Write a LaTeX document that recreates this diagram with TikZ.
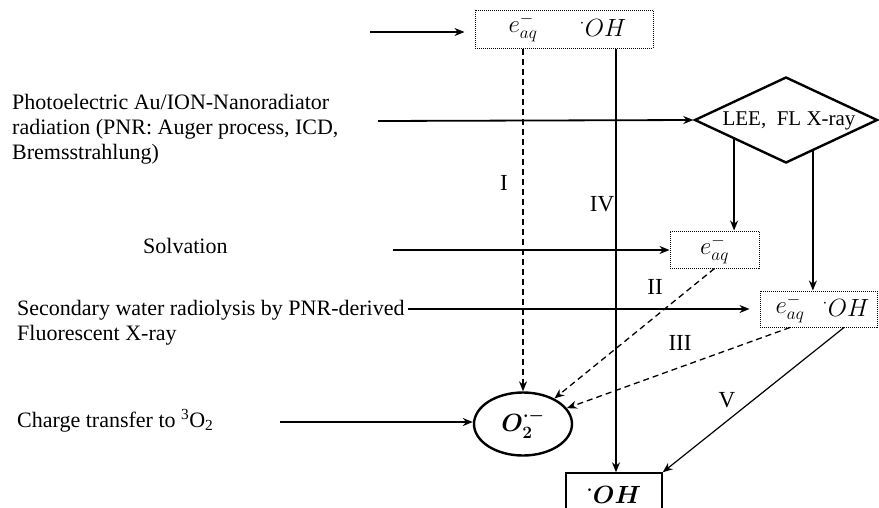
\documentclass[tikz,border=0pt]{standalone}
\usepackage{amsmath,bm}
\usepackage{fontspec}
\setmainfont{Liberation Serif}
\usetikzlibrary{arrows.meta,shapes.geometric,positioning,calc}

\tikzset{
  dotbox/.style={draw,densely dotted,line width=1pt,inner sep=0pt},
  feed/.style={->,line width=1.8pt},
  route/.style={->,line width=1.2pt},
  dashroute/.style={->,dash pattern=on 6pt off 4pt,line width=1.3pt},
  numlabel/.style={font=\fontsize{23}{23}\selectfont},
  species/.style={font=\fontsize{25}{25}\selectfont},
  caption/.style={anchor=west,align=left,inner sep=0pt},
}

\begin{document}
\begin{tikzpicture}[x=1pt,y=-1pt,>={Stealth[length=10pt,width=8pt]},font=\fontsize{22}{25}\selectfont]
    \useasboundingbox (0,0) rectangle (879,507);

    % Primary products
    \node[dotbox,minimum width=178pt,minimum height=38pt] (top) at (564,29) {};
    \node[species] (eaqtop) at (523,28) {$e^{-}_{aq}$};
    \node[species] (ohtop) at (603,28) {$^{\cdot}OH$};

    % PNR branch
    \node[draw,diamond,line width=2.4pt,minimum width=183pt,minimum height=86pt,inner sep=0pt,aspect=2.13] (lee) at (786,120) {};
    \node[font=\fontsize{21}{21}\selectfont] (leetxt) at (789,121) {LEE,\ \ FL X-ray};
    \node[dotbox,species,minimum width=89pt,minimum height=37pt] (eaqbox) at (714.5,249.5) {$e^{-}_{aq}$};
    \node[dotbox,minimum width=117pt,minimum height=36pt] (lowbox) at (818.5,309) {};
    \node[species] (eaqlow) at (790,309) {$e^{-}_{aq}$};
    \node[species] (ohlow) at (846,308) {$^{\cdot}OH$};

    % Final species
    \node[draw,ellipse,species,line width=2.4pt,minimum width=98pt,minimum height=63pt,inner sep=0pt] (o2) at (523,424) {$\bm{O_2^{\cdot -}}$};
    \node[draw,species,line width=1.4pt,minimum width=96pt,minimum height=44pt] (ohbox) at (614,495) {$\bm{^{\cdot}OH}$};

    % Captions
    \node[caption] (photo) at (12,129) {Photoelectric Au/ION-Nanoradiator\\radiation (PNR: Auger process, ICD,\\Bremsstrahlung)};
    \node[caption] (solv) at (143,246) {Solvation};
    \node[caption] (second) at (17,323) {Secondary water radiolysis by PNR-derived\\Fluorescent X-ray};
    \node[caption] (charge) at (17,421) {Charge transfer to \textsuperscript{3}O\textsubscript{2}};

    % Inputs
    \coordinate (s1) at (370,32);
    \coordinate (s2) at (378,121);
    \coordinate (s3) at (393,250);
    \coordinate (s4) at (408,309);
    \coordinate (s5) at (280,422);
    \draw[feed,shorten >=10pt] (s1) -- (s1 -| top.west);
    \draw[feed] (s2) -- (lee.west);
    \draw[feed] (s3) -- (s3 -| eaqbox.west);
    \draw[feed,shorten >=10pt] (s4) -- (s4 -| lowbox.west);
    \draw[feed] (s5) -- (s5 -| o2.west);

    % From the diamond
    \coordinate (d1) at ($(lee.west)!0.44!(lee.south)$);
    \coordinate (d2) at ($(lee.south)!0.29!(lee.east)$);
    \draw[feed] (d1) -- (d1 |- eaqbox.north);
    \draw[feed] (d2) -- (d2 |- lowbox.north);

    % Pathways
    \draw[dashroute] (top.south -| eaqtop) -- (o2.north);
    \draw[route] (top.south -| 616,0) -- (616,0 |- ohbox.north);
    \draw[dashroute] (eaqbox.south) -- (o2);
    \draw[dashroute] (lowbox.south -| eaqlow) -- (o2);
    \draw[route] (lowbox.south -| 844,0) -- (ohbox.north east);

    % Pathway labels
    \node[numlabel] (lI) at (504,183) {I};
    \node[numlabel] (lII) at (655,287) {II};
    \node[numlabel] (lIII) at (680,343) {III};
    \node[numlabel] (lIV) at (602,204) {IV};
    \node[numlabel] (lV) at (727,400) {V};
\end{tikzpicture}
\end{document}
